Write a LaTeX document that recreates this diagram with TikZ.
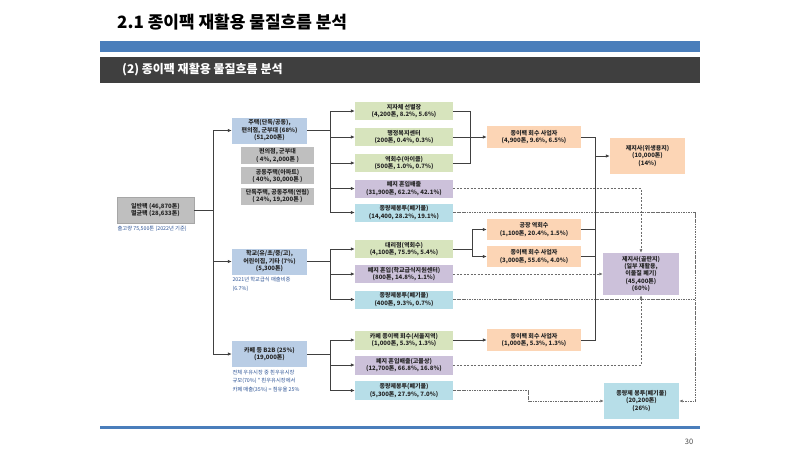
\documentclass[tikz,border=0pt]{standalone}
\usepackage{fontspec}
\setmainfont{Noto Sans CJK KR}
\usetikzlibrary{positioning,arrows.meta}

\definecolor{srcblue}{HTML}{B9CDE5}
\definecolor{subgray}{HTML}{BFBFBF}
\definecolor{colgreen}{HTML}{D7E4BD}
\definecolor{colpurple}{HTML}{CCC1DA}
\definecolor{colcyan}{HTML}{B7DEE8}
\definecolor{colorange}{HTML}{FCD5B5}
\definecolor{barblue}{HTML}{4A7EBB}
\definecolor{bardark}{HTML}{3F3F3F}
\definecolor{notetext}{HTML}{2F5597}
\definecolor{linegray}{HTML}{404040}
\definecolor{dashgray}{HTML}{6B6B6B}

\tikzset{
	flowbox/.style={inner sep=0.5pt, align=center, text=black!85,
		font=\fontsize{6}{7.4}\selectfont\bfseries},
	srcbox/.style={flowbox, fill=srcblue, minimum width=75pt, minimum height=26pt},
	subbox/.style={flowbox, fill=subgray, minimum width=73pt, minimum height=17pt},
	midbox/.style={flowbox, minimum width=98pt, minimum height=18pt},
	recbox/.style={flowbox, fill=colorange, minimum width=94pt, minimum height=22pt},
	endbox/.style={flowbox, minimum width=76pt},
	note/.style={inner sep=0.5pt, align=left, text=notetext,
		font=\fontsize{5.3}{8.5}\selectfont},
	link/.style={draw=linegray, line width=0.8pt},
	flowarrow/.style={link, -{Latex[length=4pt,width=3.5pt]}},
	paperline/.style={draw=dashgray, line width=0.7pt, dash pattern=on 2pt off 1.5pt},
	wasteline/.style={draw=dashgray, line width=0.7pt,
		dash pattern=on 2.5pt off 1pt on 0.6pt off 1pt},
	dashtip/.style={-{Latex[length=3.5pt,width=3pt]}}
}

\begin{document}
\begin{tikzpicture}[x=1pt, y=-1pt]
	\useasboundingbox[fill=white] (0,0) rectangle (800,450);

	\node[anchor=west, inner sep=0pt, font=\fontsize{17}{20}\selectfont\bfseries] (title)
		at (117,22) {2.1 종이팩 재활용 물질흐름 분석};
	\fill[barblue] (100,41) rectangle (700,52);
	\fill[bardark] (100,57) rectangle (700,83);
	\node[anchor=west, inner sep=0pt, text=white, font=\fontsize{12}{14}\selectfont\bfseries]
		(subtitle) at (122,70) {(2) 종이팩 재활용 물질흐름 분석};
	\fill[barblue] (100,425.5) rectangle (700,429);
	\node[text=black!70, font=\fontsize{7.5}{9}\selectfont] (page) at (689,442) {30};

	\node[flowbox, fill=subgray, draw=gray!70, line width=0.4pt,
		minimum width=77pt, minimum height=26pt] (ilban) at (155.5,210)
		{일반팩 (46,870톤)\\멸균팩 (28,633톤)};
	\node[note, below right=2.5pt and 0pt of ilban.south west] (inote)
		{출고량 75,500톤 (2022년 기준)};

	\node[srcbox] (house) at (269.5,130.5) {주택(단독/공동),\\편의점, 군부대 (68\%)\\(51,200톤)};
	\node[subbox] (hs1) at (277.5,155.5) {편의점, 군부대\\( 4\%, 2,000톤 )};
	\node[subbox, below=3pt of hs1] (hs2) {공동주택(아파트)\\( 40\%, 30,000톤 )};
	\node[subbox, below=3pt of hs2] (hs3) {단독주택, 공동주택(연립)\\( 24\%, 19,200톤 )};

	\node[srcbox] (school) at (269.5,261.5) {학교(유/초/중/고),\\어린이집, 기타 (7\%)\\(5,300톤)};
	\node[note, below right=2pt and 0pt of school.south west] (snote)
		{2021년 학교급식 매출비중\\(6.7\%)};

	\node[srcbox] (cafe) at (269.5,354) {카페 등 B2B (25\%)\\(19,000톤)};
	\node[note, below right=2pt and 0pt of cafe.south west] (cnote)
		{전체 우유시장 중 흰우유시장\\규모(70\%) * 흰우유시장에서\\카페 매출(35\%) = 점유율 25\%};

	\node[midbox, fill=colgreen] (h1) at (404,111) {지자체 선별장\\(4,200톤, 8.2\%, 5.6\%)};
	\node[midbox, fill=colgreen] (h2) at (404,137) {행정복지센터\\(200톤, 0.4\%, 0.3\%)};
	\node[midbox, fill=colgreen] (h3) at (404,163) {역회수(아이쿱)\\(500톤, 1.0\%, 0.7\%)};
	\node[midbox, fill=colpurple] (h4) at (404,188.5) {폐지 혼입배출\\(31,900톤, 62.2\%, 42.1\%)};
	\node[midbox, fill=colcyan] (h5) at (404,212.5) {종량제봉투(폐기물)\\(14,400, 28.2\%, 19.1\%)};

	\node[midbox, fill=colgreen] (s1) at (404,249) {대리점(역회수)\\(4,100톤, 75.9\%, 5.4\%)};
	\node[midbox, fill=colpurple] (s2) at (404,274) {폐지 혼입(학교급식지원센터)\\(800톤, 14.8\%, 1.1\%)};
	\node[midbox, fill=colcyan] (s3) at (404,299.5) {종량제봉투(폐기물)\\(400톤, 9.3\%, 0.7\%)};

	\node[midbox, fill=colgreen, minimum height=19pt] (c1) at (404,340) {카페 종이팩 회수(서울지역)\\(1,000톤, 5.3\%, 1.3\%)};
	\node[midbox, fill=colpurple, minimum height=19pt] (c2) at (404,365) {폐지 혼입배출(고물상)\\(12,700톤, 66.8\%, 16.8\%)};
	\node[midbox, fill=colcyan, minimum height=19pt] (c3) at (404,390.5) {종량제봉투(폐기물)\\(5,300톤, 27.9\%, 7.0\%)};

	\node[recbox] (r1) at (534,137) {종이팩 회수 사업자\\(4,900톤, 9.6\%, 6.5\%)};
	\node[recbox, minimum height=21pt] (r2) at (534,229.5) {공장 역회수\\(1,100톤, 20.4\%, 1.5\%)};
	\node[recbox, minimum height=21pt] (r3) at (534,256.5) {종이팩 회수 사업자\\(3,000톤, 55.6\%, 4.0\%)};
	\node[recbox] (r4) at (534,340) {종이팩 회수 사업자\\(1,000톤, 5.3\%, 1.3\%)};

	\node[endbox, fill=colorange, minimum width=75pt, minimum height=36pt] (p1) at (647.5,156)
		{제지사(위생용지)\\(10,000톤)\\(14\%)};
	\node[endbox, fill=colpurple, minimum height=42pt] (p2) at (641,274)
		{제지사(골판지)\\(일부 재활용,\\이물질 폐기)\\(45,400톤)\\(60\%)};
	\node[endbox, fill=colcyan, minimum width=75pt, minimum height=36pt] (p3) at (641.5,401)
		{종량제 봉투(폐기물)\\(20,200톤)\\(26\%)};

	\coordinate (trunk) at (213,210);
	\coordinate (hb) at ([xshift=23pt]house.east);
	\coordinate (sb) at ([xshift=23pt]school.east);
	\coordinate (cb) at ([xshift=23pt]cafe.east);
	\coordinate (hm) at ([xshift=17pt]h2.east);
	\coordinate (sm) at ([xshift=19pt]s1.east);
	\coordinate (gather) at (595,156);
	\coordinate (rail) at ([xshift=16pt]p2.east);

	\draw[link] (ilban.east) -- (trunk);
	\foreach \t in {house,school,cafe}
		\draw[flowarrow] (trunk) |- (\t.west);
	\foreach \t in {h1,h2,h3,h4,h5}
		\draw[flowarrow] (house.east) -- (hb) |- (\t.west);
	\foreach \t in {s1,s2,s3}
		\draw[flowarrow] (school.east) -- (sb) |- (\t.west);
	\foreach \t in {c1,c2,c3}
		\draw[flowarrow] (cafe.east) -- (cb) |- (\t.west);

	\draw[link] (h1.east) -| (hm) (h3.east) -| (hm);
	\draw[flowarrow] (h2.east) -- (r1.west);
	\draw[flowarrow] (s1.east) -- (sm) |- (r2.west);
	\draw[flowarrow] (s1.east) -- (sm) |- (r3.west);
	\draw[flowarrow] (c1.east) -- (r4.west);

	\foreach \t in {r1,r2,r3,r4}
		\draw[link] (\t.east) -| (gather);
	\draw[flowarrow] (gather) -- (p1.west);

	\draw[paperline, dashtip] (h4.east) -| (p2.north);
	\draw[paperline, dashtip] (s2.east) -- (p2.west);
	\draw[paperline, dashtip] (c2.east) -| (p2.south);
	\draw[wasteline, dashtip] (h5.east) -- (h5.east -| rail) |- (p3.east);
	\draw[wasteline] (s3.east) -- (s3.east -| rail);
	\draw[wasteline, dashtip] (c3.east) -- ++(75,0) |- (p3.west);
\end{tikzpicture}
\end{document}
